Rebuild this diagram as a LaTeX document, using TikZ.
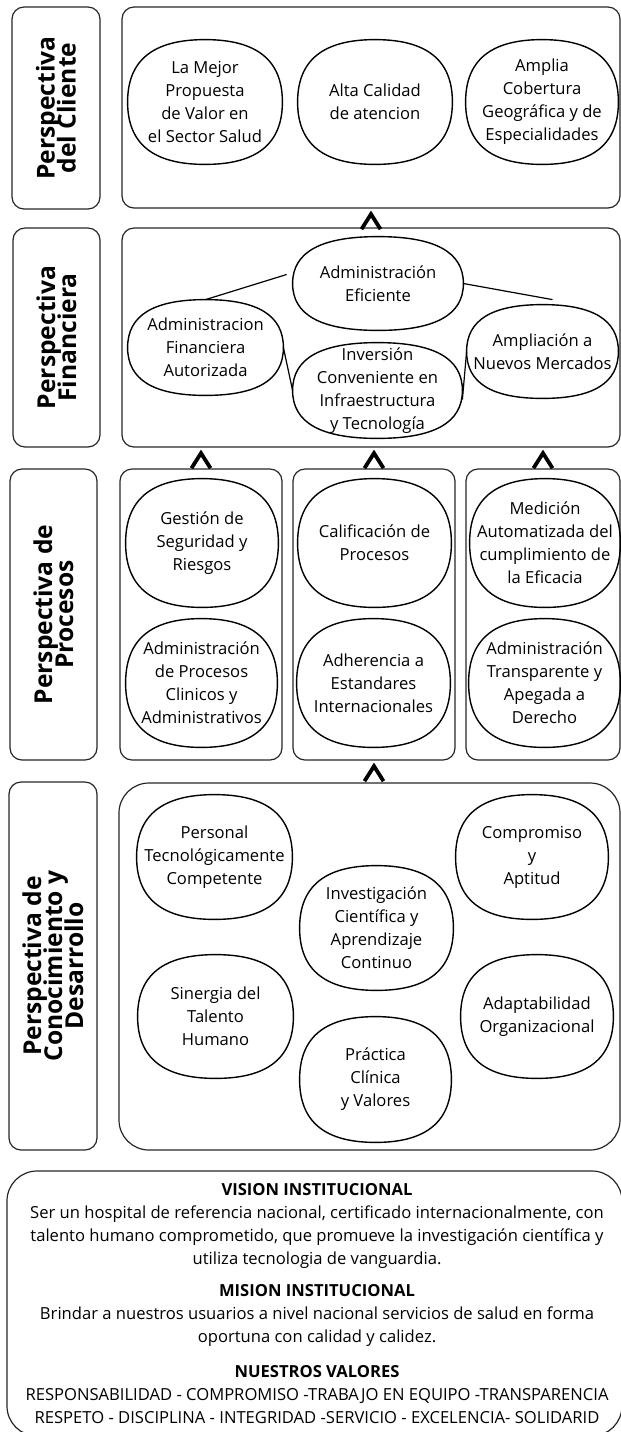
\documentclass[tikz,border=0pt]{standalone}
\usepackage{fontspec}
\setmainfont{Open Sans}
\usetikzlibrary{arrows.meta,calc}

\begin{document}
\begin{tikzpicture}[x=0.5pt, y=-0.5pt,
    etiqueta/.style={draw=black!85, line width=0.6pt, rounded corners=6pt, inner sep=0pt, rotate=90, align=center,
        font=\bfseries\fontsize{12.3}{10.5}\selectfont, execute at begin node={\setlength{\lineskiplimit}{-100pt}}},
    panel/.style={draw=black!85, line width=0.6pt, rounded corners=6pt, inner sep=0pt},
    objetivo/.style={inner sep=0pt, align=center, font=\fontsize{8.3}{11.5}\selectfont},
    borde/.style={draw=black, line width=0.7pt},
    enlace/.style={line width=0.6pt},
    flecha/.style={draw=white, line width=2pt, shorten <=1pt, shorten >=1pt,
        -{Straight Barb[color=black, length=7.5pt, width=9.5pt, line width=1.9pt]}}]
    \useasboundingbox (0,0) rectangle (621,1432);

    % Perspectiva del Cliente
    \node[etiqueta, minimum width=101pt, minimum height=44pt] (lab1) at (56,108) {Perspectiva\\del Cliente};
    \node[panel, minimum width=249pt, minimum height=100.5pt] (cli) at (371,107.5) {};
    \node[objetivo, minimum width=77pt, minimum height=62pt] (mejor) at (205,102) {La Mejor\\Propuesta\\de Valor en\\el Sector Salud};
    \node[objetivo, minimum width=77pt, minimum height=62pt] (calidad) at (375,102) {Alta Calidad\\de atencion};
    \node[objetivo, minimum width=76pt, minimum height=62pt] (cobertura) at (542,102) {Amplia\\Cobertura\\Geográfica y de\\Especialidades};

    % Perspectiva Financiera
    \node[etiqueta, minimum width=109.5pt, minimum height=43.5pt] (lab2) at (56.5,337.5) {Perspectiva\\Financiera};
    \node[panel, minimum width=249pt, minimum height=109.5pt] (fin) at (371,337.5) {};
    \node[objetivo, minimum width=85pt, minimum height=46.5pt] (efi) at (378,283.5) {Administración\\Eficiente};
    \node[objetivo, minimum width=77.5pt, minimum height=47.5pt] (finc) at (205.5,347.5) {Administracion\\Financiera\\Autorizada};
    \node[objetivo, minimum width=84.5pt, minimum height=47.5pt] (inv) at (377.5,390.5) {Inversión\\Conveniente en\\Infraestructura\\y Tecnología};
    \node[objetivo, minimum width=75.5pt, minimum height=46.5pt] (amp) at (542.5,351.5) {Ampliación a\\Nuevos Mercados};
    \draw[enlace] (finc.north) -- ([shift={(-6,-9)}]efi.west);
    \draw[enlace] (efi.east) -- ([shift={(10,-5)}]amp.north);
    \draw[enlace] (finc.east) -- (inv.west);
    \draw[enlace] ([shift={(0,9)}]inv.east) -- (amp.west);

    % Perspectiva de Procesos
    \node[etiqueta, minimum width=145.5pt, minimum height=43.5pt] (lab3) at (53.5,614.5) {Perspectiva de\\Procesos};
    \node[panel, minimum width=81pt, minimum height=145.5pt] (pA) at (201,614.5) {};
    \node[panel, minimum width=81pt, minimum height=145.5pt] (pB) at (374,614.5) {};
    \node[panel, minimum width=77pt, minimum height=145.5pt] (pC) at (543,614.5) {};
    \node[objetivo, minimum width=76pt, minimum height=64pt] (seg) at (202,543) {Gestión de\\Seguridad y\\Riesgos};
    \node[objetivo, minimum width=75.5pt, minimum height=64pt] (clin) at (201.5,683) {Administración\\de Procesos\\Clinicos y\\Administrativos};
    \node[objetivo, minimum width=76.5pt, minimum height=64pt] (calif) at (374.5,543) {Calificación de\\Procesos};
    \node[objetivo, minimum width=76.5pt, minimum height=64pt] (adh) at (373.5,683) {Adherencia a\\Estandares\\Internacionales};
    \node[objetivo, minimum width=75pt, minimum height=64pt] (med) at (545,543) {Medición\\Automatizada del\\cumplimiento de\\la Eficacia};
    \node[objetivo, minimum width=75.5pt, minimum height=64pt] (transp) at (544.5,683) {Administración\\Transparente y\\Apegada a\\Derecho};

    % Perspectiva de Conocimiento y Desarrollo
    \node[etiqueta, minimum width=184pt, minimum height=44pt] (lab4) at (53,966) {Perspectiva de\\Conocimiento y\\Desarrollo};
    \node[panel, rounded corners=15pt, minimum width=250.5pt, minimum height=183.5pt] (con) at (369.5,966.5) {};
    \node[objetivo, minimum width=77.5pt, minimum height=62pt] (tec) at (214.5,857) {Personal\\Tecnológicamente\\Competente};
    \node[objetivo, minimum width=77.5pt, minimum height=61.5pt] (sin) at (215.5,1016.5) {Sinergia del\\Talento\\Humano};
    \node[objetivo, minimum width=76.5pt, minimum height=62pt] (ivg) at (376.5,928) {Investigación\\Científica y\\Aprendizaje\\Continuo};
    \node[objetivo, minimum width=76pt, minimum height=62pt] (cmp) at (532,857) {Compromiso\\y\\Aptitud};
    \node[objetivo, minimum width=76pt, minimum height=61.5pt] (ada) at (537,1016.5) {Adaptabilidad\\Organizacional};
    \node[objetivo, minimum width=75.5pt, minimum height=62.5pt] (pra) at (375.5,1079.5) {Práctica\\Clínica\\y Valores};

    % rounded outline of every objective
    \foreach \n in {mejor,calidad,cobertura,efi,finc,inv,amp,seg,clin,calif,adh,med,transp,tec,sin,ivg,cmp,ada,pra}
        \draw[borde] (\n.north)
            .. controls ($(\n.north)!0.67!(\n.north east)$) and ($(\n.east)!0.67!(\n.north east)$) .. (\n.east)
            .. controls ($(\n.east)!0.67!(\n.south east)$) and ($(\n.south)!0.67!(\n.south east)$) .. (\n.south)
            .. controls ($(\n.south)!0.67!(\n.south west)$) and ($(\n.west)!0.67!(\n.south west)$) .. (\n.west)
            .. controls ($(\n.west)!0.67!(\n.north west)$) and ($(\n.north)!0.67!(\n.north west)$) .. cycle;

    % Carets between the perspectives
    \draw[flecha] (fin.north) -- (cli.south);
    \draw[flecha] (pA.north) -- (pA.north |- fin.south);
    \draw[flecha] (pB.north) -- (pB.north |- fin.south);
    \draw[flecha] (pC.north) -- (pC.north |- fin.south);
    \draw[flecha] (pB.south |- con.north) -- (pB.south);

    % Vision, mision y valores
    \node[panel, rounded corners=15pt, minimum width=307.5pt, minimum height=132.5pt] (base) at (314.5,1303.5) {};
    \node[align=center, font=\fontsize{8.3}{11.5}\selectfont] (texto) at (317,1303.5) {%
        \textbf{VISION INSTITUCIONAL}\\
        Ser un hospital de referencia nacional, certificado internacionalmente, con\\
        talento humano comprometido, que promueve la investigación científica y\\
        utiliza tecnologia de vanguardia.\\[4.5pt]
        \textbf{MISION INSTITUCIONAL}\\
        Brindar a nuestros usuarios a nivel nacional servicios de salud en forma\\
        oportuna con calidad y calidez.\\[6pt]
        \textbf{NUESTROS VALORES}\\
        RESPONSABILIDAD - COMPROMISO -TRABAJO EN EQUIPO -TRANSPARENCIA\\
        RESPETO - DISCIPLINA - INTEGRIDAD -SERVICIO - EXCELENCIA- SOLIDARID};
\end{tikzpicture}
\end{document}
